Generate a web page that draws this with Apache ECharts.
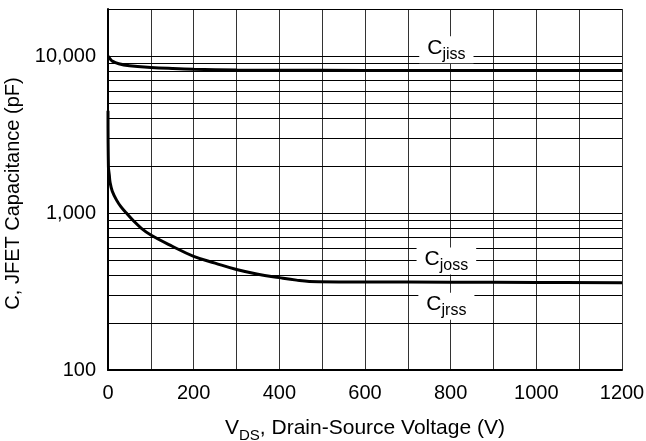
<!DOCTYPE html>
<html>
<head>
<meta charset="utf-8">
<script src="https://cdn.jsdelivr.net/npm/echarts@6/dist/echarts.min.js"></script>
<style>
  html, body { margin: 0; padding: 0; background: #fff; }
  #chart { width: 646px; height: 441px; }
</style>
</head>
<body>
<div id="chart"></div>
<script>
// Input capacitance C_jiss vs drain-source voltage
const vdsIss = [0, 5, 10, 25, 50, 100, 150, 200, 300, 400, 600, 800, 1000, 1200];
const cIss   = [10000, 9600, 9300, 8950, 8700, 8480, 8350, 8260, 8170, 8140, 8120, 8110, 8100, 8100];

// Output capacitance C_joss (C_jrss follows the same trace at high voltage)
const vdsOss = [0, 1, 3, 5, 10, 20, 30, 43, 60, 78, 100, 150, 200, 250, 300, 350, 400, 440, 470, 600, 800, 1000, 1200];
const cOss   = [4500, 1970, 1750, 1560, 1380, 1210, 1100, 1000, 890, 800, 725, 615, 530, 480, 437, 408, 388, 374, 367, 364, 363, 361, 360];

// Log-decade grid levels (pF) and labelled y ticks
const gridLevels = [200, 300, 400, 500, 600, 700, 800, 900,
                    1000, 2000, 3000, 4000, 5000, 6000, 7000, 8000, 9000,
                    10000, 20000];
const yTickLabels = [100, 1000, 10000];

// Curve annotations: [name, subscript, V, C]
const notes = [
  ['C', 'jiss', 790, 11000],
  ['C', 'joss', 790, 495],
  ['C', 'jrss', 790, 255]
];

const FONT = 'Arial, "Liberation Sans", Helvetica, sans-serif';

const chart = echarts.init(document.getElementById('chart'), null, { renderer: 'canvas' });

function toPairs(xs, ys) { return xs.map((x, i) => [x, ys[i]]); }

const noteRich = {
  c:   { fontFamily: FONT, fontSize: 21, color: '#000', lineHeight: 25, verticalAlign: 'top' },
  sub: { fontFamily: FONT, fontSize: 16, color: '#000', lineHeight: 16, verticalAlign: 'bottom' }
};

function noteLabel() {
  return {
    show: true, position: 'inside',
    backgroundColor: '#fff', padding: [1, 8, 1, 8],
    formatter: p => '{c|' + p.data.n + '}{sub|' + p.data.s + '}',
    rich: noteRich
  };
}

chart.setOption({
  animation: false,
  grid: { left: 108, right: 24, top: 9, bottom: 71, containLabel: false, outerBoundsMode: 'none' },
  xAxis: {
    type: 'value',
    min: 0, max: 1200, interval: 100,
    axisLine: { show: true, lineStyle: { color: '#000', width: 2 } },
    axisTick: { show: false },
    axisLabel: {
      margin: 13,
      fontFamily: FONT, fontSize: 20, color: '#000',
      formatter: v => (v % 200 === 0 ? String(v) : '')
    },
    splitLine: { show: true, lineStyle: { color: '#333', width: 1 } },
    name: '{v|V}{s|DS}{t|, Drain-Source Voltage (V)}',
    nameLocation: 'middle',
    nameGap: 48,
    nameTextStyle: {
      rich: {
        v: { fontFamily: FONT, fontSize: 21, color: '#000', lineHeight: 25, verticalAlign: 'top' },
        s: { fontFamily: FONT, fontSize: 15, color: '#000', lineHeight: 15, verticalAlign: 'bottom' },
        t: { fontFamily: FONT, fontSize: 21, color: '#000', lineHeight: 25, verticalAlign: 'top' }
      }
    }
  },
  yAxis: {
    type: 'log', logBase: 10,
    min: 100, max: 20000,
    axisLine: { show: true, lineStyle: { color: '#000', width: 2 } },
    axisTick: { show: false },
    splitLine: { show: false },
    axisLabel: {
      margin: 12,
      fontFamily: FONT, fontSize: 20, color: '#000',
      formatter: v => {
        const r = Math.round(v);
        return yTickLabels.includes(r) ? r.toLocaleString('en-US') : '';
      }
    },
    name: 'C, JFET Capacitance (pF)',
    nameLocation: 'middle',
    nameRotate: 90,
    nameGap: 80,
    nameTextStyle: { fontFamily: FONT, fontSize: 20, color: '#000', padding: [0, 8, 0, 0] }
  },
  series: [
    {
      name: 'grid',
      type: 'line',
      data: [],
      z: 1,
      silent: true,
      markLine: {
        silent: true,
        symbol: 'none',
        label: { show: false },
        lineStyle: { color: '#000', width: 1, type: 'solid' },
        data: gridLevels.map(v => ({ yAxis: v }))
      }
    },
    {
      name: 'Cjiss',
      type: 'line',
      data: toPairs(vdsIss, cIss),
      showSymbol: false,
      smooth: 0.4,
      z: 3,
      lineStyle: { color: '#000', width: 3 },
      markPoint: {
        symbol: 'rect', symbolSize: 1,
        itemStyle: { color: 'rgba(0,0,0,0)' },
        z: 6,
        label: noteLabel(),
        data: [notes[0]].map(n => ({ coord: [n[2], n[3]], n: n[0], s: n[1] }))
      }
    },
    {
      name: 'Cjoss',
      type: 'line',
      data: toPairs(vdsOss, cOss),
      showSymbol: false,
      smooth: 0.4,
      z: 3,
      lineStyle: { color: '#000', width: 3 },
      markPoint: {
        symbol: 'rect', symbolSize: 1,
        itemStyle: { color: 'rgba(0,0,0,0)' },
        z: 6,
        label: noteLabel(),
        data: notes.slice(1).map(n => ({ coord: [n[2], n[3]], n: n[0], s: n[1] }))
      }
    }
  ]
});
</script>
</body>
</html>
